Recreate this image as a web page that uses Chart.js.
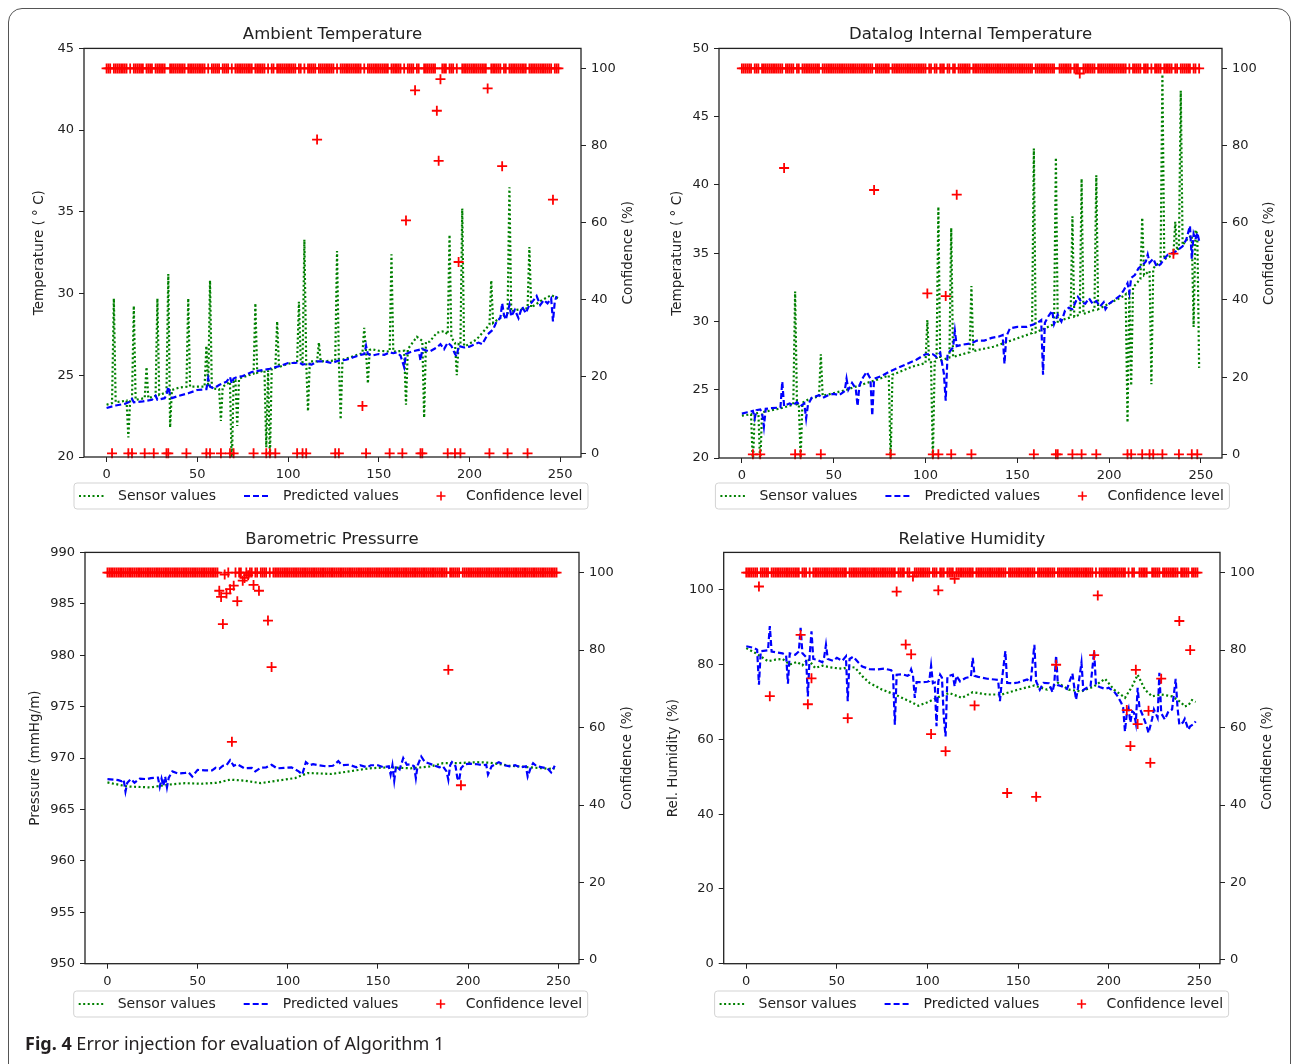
<!DOCTYPE html>
<html><head><meta charset="utf-8">
<script src="https://cdn.jsdelivr.net/npm/chart.js@4.4.1/dist/chart.umd.min.js"></script>
<style>
html,body{margin:0;padding:0;background:#fff;}
body{width:1292px;height:1064px;position:relative;overflow:hidden;}
.frame{position:absolute;left:8px;top:8px;width:1283px;height:1100px;border:1.5px solid #555;border-radius:14px 14px 0 0;box-sizing:border-box;}
canvas{position:absolute;}
#caption{position:absolute;left:25px;top:1031px;line-height:24px;font-family:"Noto Sans","Open Sans",sans-serif;font-size:18px;color:#231f20;white-space:nowrap;}
#caption b{font-weight:700;}
</style></head>
<body>
<div class="frame"></div>
<canvas id="c1" width="646" height="520" style="left:0;top:0"></canvas>
<canvas id="c2" width="646" height="520" style="left:646px;top:0"></canvas>
<canvas id="c3" width="646" height="544" style="left:0;top:520px"></canvas>
<canvas id="c4" width="646" height="544" style="left:646px;top:520px"></canvas>
<div id="caption"><b>Fig. 4</b> Error injection for evaluation of Algorithm 1</div>
<script>
// ---------------- DATA ----------------
const xTickValues = [0, 50, 100, 150, 200, 250];
const confTickValues = [0, 20, 40, 60, 80, 100];
const ambTicks = [20, 25, 30, 35, 40, 45];
const dlgTicks = [20, 25, 30, 35, 40, 45, 50];
const baroTicks = [950, 955, 960, 965, 970, 975, 980, 985, 990];
const humTicks = [0, 20, 40, 60, 80, 100];

const titles = ["Ambient Temperature", "Datalog Internal Temperature", "Barometric Pressurre", "Relative Humidity"];
const yTitles = ["Temperature ( \u00B0 C)", "Temperature ( \u00B0 C)", "Pressure (mmHg/m)", "Rel. Humidity (%)"];
const seriesNames = ["Sensor values", "Predicted values", "Confidence level"];
const confTitle = "Confidence (%)";

// Ambient Temperature: [step, value]
const ambSensor = [[0,23.2],[3,23.3],[4,29.7],[5,23.35],[11,23.45],[12,21.2],[13,23.5],[14,23.5],[15,29.25],[16,23.5],[21,23.6],[22,25.5],[23,23.6],[27,23.75],[28,29.7],[29,23.8],[33,23.95],[34,31.2],[35,21.8],[36,24.1],[40,24.25],[44,24.3],[45,29.7],[46,24.3],[54,24.3],[55,26.8],[56,24.3],[57,30.8],[58,24.2],[62,24.15],[63,22.2],[64,24.3],[68,24.6],[69,19.3],[70,24.7],[71,24.7],[72,21.9],[73,24.8],[81,25.1],[82,29.4],[83,25.15],[87,25.3],[88,20.6],[89,25.3],[90,19.8],[91,25.4],[93,25.45],[94,28.3],[95,25.5],[100,25.7],[105,25.8],[106,29.5],[107,25.8],[108,25.8],[109,33.3],[110,25.85],[111,22.8],[112,25.85],[116,25.85],[117,27.0],[118,25.85],[126,25.9],[127,32.6],[128,25.9],[129,22.3],[130,25.95],[141,26.35],[142,27.9],[143,26.4],[144,24.5],[145,26.55],[146,26.6],[150,26.5],[156,26.45],[157,32.4],[158,26.45],[164,26.5],[165,23.2],[166,26.6],[171,27.35],[174,27.1],[175,22.4],[176,27.05],[178,27.05],[182,27.6],[186,27.7],[188,27.5],[189,33.6],[190,27.3],[192,27.0],[193,25.0],[194,26.9],[195,26.85],[196,35.2],[197,26.8],[198,26.8],[204,27.2],[211,28.1],[212,30.8],[213,28.2],[218,28.6],[221,28.8],[222,36.5],[223,28.9],[226,29.0],[232,29.1],[233,32.85],[234,29.15],[240,29.6],[245,29.9],[249,29.7]];
const ambPred = [[0,23.0],[5,23.15],[10,23.25],[13,23.4],[14,23.55],[15,23.35],[20,23.4],[25,23.5],[27,23.75],[28,23.5],[32,23.6],[33,23.8],[34,24.3],[35,23.8],[36,23.6],[40,23.75],[45,23.9],[50,24.1],[55,24.15],[56,24.8],[57,24.3],[59,24.2],[62,24.4],[66,24.6],[68,24.9],[69,24.5],[70,24.8],[72,24.9],[75,24.95],[80,25.2],[85,25.3],[90,25.4],[93,25.5],[95,25.55],[100,25.75],[104,25.75],[106,25.8],[108,25.65],[110,25.7],[113,25.65],[116,25.85],[120,25.85],[124,25.75],[128,25.9],[132,25.95],[136,26.1],[140,26.25],[142,26.3],[143,26.8],[144,26.3],[146,26.2],[150,26.3],[153,26.25],[156,26.4],[158,26.35],[160,26.4],[162,26.2],[164,25.5],[165,26.3],[168,26.45],[172,26.55],[173,25.9],[174,26.6],[178,26.45],[182,26.7],[184,26.9],[186,26.6],[188,27.0],[190,26.8],[192,26.3],[193,26.15],[194,26.8],[197,26.7],[200,26.75],[203,26.9],[205,27.0],[207,26.9],[210,27.5],[213,27.8],[215,28.3],[217,28.5],[218,29.4],[219,28.7],[220,28.4],[222,29.3],[223,28.6],[225,29.0],[227,28.5],[229,29.2],[231,28.8],[233,29.3],[235,29.55],[237,29.85],[239,29.3],[241,29.6],[243,29.4],[245,29.7],[246,28.3],[247,29.5],[248,29.85]];
const ambConf = [
100,100,100,0,100,100,100,100,100,100,
100,100,0,100,0,100,100,100,100,100,
100,0,100,100,100,100,0,100,100,100,
100,100,100,0,0,100,100,100,100,100,
100,100,100,100,0,100,100,100,100,100,
100,100,100,100,100,0,100,0,100,100,
100,100,100,0,100,100,100,100,0,100,
0,100,100,100,100,100,100,100,100,100,
100,0,100,100,100,100,100,100,0,100,
0,100,100,0,100,100,100,100,100,100,
100,100,100,100,100,0,100,100,0,100,
0,100,100,100,100,100,81.5,100,100,100,
100,100,100,100,100,100,0,100,0,100,
100,100,100,100,100,100,100,100,100,100,
100,12.3,100,0,100,100,100,100,100,100,
100,100,100,100,100,100,0,100,100,100,
100,100,100,0,100,60.5,100,100,100,100,
94.3,100,100,0,0,100,100,100,100,100,
100,100,89,76,97.2,100,100,100,0,100,
100,100,0,100,49.7,0,100,100,100,100,
100,100,100,100,100,100,100,100,100,100,
94.8,0,100,100,100,100,100,100,74.6,100,
100,0,100,100,100,100,100,100,100,100,
100,100,0,100,100,100,100,100,100,100,
100,100,100,100,100,100,65.9,100,100,100];

// Datalog Internal Temperature
const dlgSensor = [[0,23.1],[5,23.2],[6,19.5],[7,23.25],[9,23.3],[10,19.5],[11,23.35],[20,23.6],[28,23.9],[29,32.2],[30,23.95],[31,24.0],[32,20.0],[33,24.05],[37,24.35],[42,24.5],[43,27.6],[44,24.55],[57,25.0],[75,25.8],[80,26.05],[81,19.8],[82,26.1],[93,26.7],[100,26.95],[101,30.1],[102,27.0],[103,27.0],[104,19.8],[105,27.05],[106,27.1],[107,38.4],[108,27.15],[112,27.3],[113,27.35],[114,36.85],[115,27.4],[124,27.75],[125,32.6],[126,27.8],[128,27.9],[137,28.15],[155,29.0],[158,29.15],[159,42.66],[160,29.2],[170,29.8],[171,42.0],[172,29.9],[174,30.1],[179,30.3],[180,37.7],[181,30.35],[184,30.5],[185,40.45],[186,30.55],[192,30.85],[193,40.7],[194,30.9],[207,31.8],[209,32.0],[210,22.6],[211,32.2],[212,25.3],[213,32.5],[217,33.1],[218,37.6],[219,33.4],[222,33.7],[223,25.4],[224,33.9],[228,34.4],[229,48.1],[230,34.55],[235,34.9],[236,37.3],[237,35.2],[238,35.4],[239,46.9],[240,35.6],[243,36.1],[245,36.3],[246,29.6],[247,36.7],[248,36.4],[249,26.6]];
const dlgPred = [[0,23.25],[3,23.35],[6,23.45],[7,22.9],[8,23.5],[10,23.55],[11,23.3],[12,22.3],[13,23.6],[16,23.65],[21,23.7],[22,25.6],[23,23.8],[26,24.0],[28,23.85],[30,24.1],[32,23.8],[34,24.0],[35,22.9],[36,23.9],[38,24.4],[42,24.6],[44,24.4],[47,24.6],[50,24.7],[53,24.6],[56,24.9],[57,25.8],[58,25.0],[60,25.5],[62,25.1],[63,23.8],[64,25.3],[66,25.9],[68,26.3],[70,25.8],[71,23.1],[72,25.8],[76,26.0],[80,26.3],[85,26.6],[90,26.9],[95,27.2],[100,27.6],[104,27.6],[106,27.4],[108,27.7],[110,26.2],[111,24.2],[112,27.6],[115,28.1],[116,29.3],[117,28.2],[120,28.3],[125,28.4],[128,28.6],[132,28.6],[136,28.8],[140,28.9],[142,29.0],[143,26.9],[144,28.9],[146,29.5],[150,29.6],[155,29.6],[159,29.8],[162,30.0],[163,30.1],[164,26.1],[165,29.9],[167,30.4],[169,30.8],[170,29.8],[172,30.5],[174,30.0],[176,30.8],[178,31.0],[180,30.9],[183,31.8],[185,31.4],[187,31.3],[189,31.7],[191,31.3],[193,31.5],[195,31.1],[197,31.4],[198,30.9],[200,31.3],[203,31.6],[206,31.9],[208,32.3],[210,32.8],[211,32.1],[212,33.2],[214,33.4],[216,33.9],[218,34.1],[220,34.4],[221,34.9],[222,34.3],[224,34.6],[226,34.0],[228,34.2],[230,34.6],[232,34.9],[234,35.0],[236,35.1],[238,35.3],[240,35.5],[242,36.0],[244,37.0],[245,34.6],[246,36.4],[247,36.0],[248,36.5],[249,35.9]];
const dlgConf = [
100,100,100,100,100,100,0,100,100,100,
0,100,100,100,100,100,100,100,100,100,
100,100,100,74.2,100,100,100,100,100,0,
100,100,0,100,100,100,100,100,100,100,
100,100,100,0,100,100,100,100,100,100,
100,100,100,100,100,100,100,100,100,100,
100,100,100,100,100,100,100,100,100,100,
100,100,68.5,100,100,100,100,100,100,100,
100,0,100,100,100,100,100,100,100,100,
100,100,100,100,100,100,100,100,100,100,
100,41.7,100,100,0,100,100,0,100,100,
100,41,100,100,0,100,100,67.3,100,100,
100,100,100,100,100,0,100,100,100,100,
100,100,100,100,100,100,100,100,100,100,
100,100,100,100,100,100,100,100,100,100,
100,100,100,100,100,100,100,100,100,0,
100,100,100,100,100,100,100,100,100,100,
100,0,0,100,100,100,100,100,100,100,
0,100,100,100,98.7,0,100,100,100,100,
100,100,100,0,100,100,100,100,100,100,
100,100,100,100,100,100,100,100,100,100,
0,100,0,100,100,100,100,100,0,100,
100,100,0,100,0,100,100,100,100,0,
100,100,100,100,100,52,100,100,0,100,
100,100,100,100,100,0,100,100,0,100];

// Barometric Pressure
const baroSensor = [[0,967.63],[11,967.24],[24,967.14],[33,967.4],[43,967.56],[52,967.5],[61,967.6],[68,967.9],[76,967.8],[85,967.56],[94,967.8],[104,968.05],[111,968.54],[118,968.5],[124,968.45],[134,968.7],[145,969.0],[156,969.1],[168,969.0],[179,969.18],[186,969.5],[193,969.5],[205,969.6],[212,969.55],[223,969.25],[234,969.1],[245,968.96],[248,969.0]];
const baroPred = [[0,967.95],[4,967.9],[6,967.85],[8,967.75],[9,967.9],[10,966.75],[11,967.6],[13,967.95],[15,967.6],[18,968.0],[22,967.95],[24,968.05],[28,968.1],[29,967.2],[30,968.0],[31,967.3],[32,968.2],[33,967.15],[34,968.1],[36,968.7],[39,968.5],[43,968.55],[45,968.6],[47,968.2],[50,968.85],[54,968.8],[58,968.8],[60,969.05],[62,968.95],[64,969.25],[66,969.3],[68,969.8],[70,969.25],[72,969.4],[76,969.0],[80,969.05],[82,968.7],[85,969.05],[88,969.1],[91,969.35],[94,969.0],[98,969.05],[102,969.1],[104,968.9],[106,968.7],[108,968.4],[110,969.6],[112,969.3],[114,969.4],[117,969.3],[121,969.2],[125,969.25],[128,969.7],[130,969.3],[134,969.35],[138,969.1],[140,969.3],[144,969.1],[146,969.3],[150,969.3],[153,969.1],[156,969.2],[157,968.4],[158,969.3],[159,967.8],[160,969.2],[162,968.9],[164,970.0],[166,969.35],[168,969.4],[170,969.2],[171,968.05],[172,969.3],[174,970.15],[176,969.6],[178,969.5],[181,969.3],[184,969.1],[186,969.2],[188,968.7],[189,967.9],[190,969.3],[191,969.6],[193,969.2],[194,968.05],[195,967.8],[196,969.0],[198,969.4],[201,969.45],[205,969.4],[208,969.3],[210,969.35],[211,968.4],[213,969.2],[217,969.6],[220,969.3],[223,969.2],[226,969.3],[229,969.1],[232,969.2],[233,968.2],[235,969.2],[236,969.5],[238,969.2],[241,969.1],[244,969.0],[246,968.6],[248,969.25]];
const baroConf = [
100,100,100,100,100,100,100,100,100,100,
100,100,100,100,100,100,100,100,100,100,
100,100,100,100,100,100,100,100,100,100,
100,100,100,100,100,100,100,100,100,100,
100,100,100,100,100,100,100,100,100,100,
100,100,100,100,100,100,100,100,100,100,
100,100,95.3,93.7,86.7,99.5,94.6,100,95.7,56.3,
96.6,100,92.6,100,100,97.9,98.6,100,99.3,100,
100,96.8,100,100,95.3,100,100,100,100,87.6,
100,75.6,100,100,100,100,100,100,100,100,
100,100,100,100,100,100,100,100,100,100,
100,100,100,100,100,100,100,100,100,100,
100,100,100,100,100,100,100,100,100,100,
100,100,100,100,100,100,100,100,100,100,
100,100,100,100,100,100,100,100,100,100,
100,100,100,100,100,100,100,100,100,100,
100,100,100,100,100,100,100,100,100,100,
100,100,100,100,100,100,100,100,100,100,
100,100,100,100,100,100,100,100,100,74.9,
100,100,100,100,100,100,45.1,100,100,100,
100,100,100,100,100,100,100,100,100,100,
100,100,100,100,100,100,100,100,100,100,
100,100,100,100,100,100,100,100,100,100,
100,100,100,100,100,100,100,100,100,100,
100,100,100,100,100,100,100,100,100,100];

// Relative Humidity
const humSensor = [[0,84.4],[5,83.1],[12,80.9],[16,81.3],[20,81.5],[24,80.0],[28,80.7],[31,79.8],[34,81.5],[38,79.1],[42,79.7],[46,79.3],[49,79.1],[53,78.9],[57,79.4],[60,79.2],[64,76.9],[68,75.1],[75,73.3],[82,72.0],[90,70.2],[95,69.0],[100,69.9],[106,71.3],[112,72.4],[119,71.1],[125,72.6],[133,72.0],[141,72.0],[150,73.3],[159,74.4],[166,73.3],[172,75.1],[178,73.3],[185,72.8],[192,74.2],[198,76.2],[203,73.3],[209,71.1],[213,74.2],[216,77.3],[220,73.3],[224,71.5],[229,72.0],[235,71.5],[240,69.9],[242,68.8],[244,69.1],[246,70.5],[248,70.0]];
const humPred = [[0,84.9],[4,84.5],[6,84.0],[7,74.6],[8,83.6],[12,83.8],[13,90.3],[14,83.5],[16,83.3],[20,83.0],[22,82.5],[23,74.9],[24,83.0],[27,82.6],[29,83.5],[30,89.8],[31,83.0],[33,82.0],[34,71.5],[35,82.5],[36,88.9],[37,81.5],[39,81.3],[42,80.6],[43,82.0],[44,85.3],[45,81.5],[48,81.0],[50,81.8],[53,81.0],[55,82.2],[56,70.2],[57,81.5],[59,82.1],[62,80.5],[64,79.5],[68,78.8],[72,78.7],[76,78.9],[80,78.5],[81,77.5],[82,63.9],[83,77.3],[86,77.4],[89,77.0],[90,77.3],[91,78.7],[92,77.2],[93,71.1],[94,75.3],[97,75.3],[100,75.4],[101,75.6],[102,79.7],[103,75.0],[104,75.2],[105,63.5],[106,75.5],[107,77.3],[108,76.5],[109,66.0],[110,60.8],[111,76.8],[112,77.0],[114,77.3],[115,74.2],[116,77.0],[118,75.5],[121,76.4],[124,76.8],[125,81.8],[126,77.0],[128,76.7],[133,76.2],[137,76.0],[139,75.9],[140,70.2],[141,75.5],[143,83.6],[144,75.1],[147,75.0],[150,75.2],[155,76.0],[157,75.4],[159,85.3],[160,75.5],[162,73.3],[164,75.1],[167,75.0],[169,72.6],[170,75.0],[171,82.4],[172,74.5],[174,74.2],[177,73.5],[180,77.6],[181,74.0],[182,70.6],[183,73.5],[185,80.5],[186,73.2],[188,73.8],[190,74.2],[192,83.6],[193,74.5],[195,74.0],[198,73.5],[200,73.8],[203,72.8],[205,71.5],[207,69.7],[208,68.5],[209,62.1],[210,66.8],[211,68.3],[212,64.5],[213,67.5],[214,67.1],[215,64.4],[216,73.8],[217,68.5],[219,66.2],[221,63.5],[222,61.7],[224,65.5],[225,68.0],[227,65.8],[228,77.8],[229,67.0],[231,65.3],[233,67.5],[235,68.0],[237,76.2],[238,68.5],[239,63.9],[241,64.5],[242,65.5],[244,62.6],[245,63.5],[247,64.1],[248,64.8]];
const humConf = [
100,100,100,100,100,100,100,96.4,100,100,
100,100,100,68.1,100,100,100,100,100,100,
100,100,100,100,100,100,100,100,100,100,
83.9,100,100,100,66,100,72.7,100,100,100,
100,100,100,100,100,100,100,100,100,100,
100,100,100,100,100,100,62.4,100,100,100,
100,100,100,100,100,100,100,100,100,100,
100,100,100,100,100,100,100,100,100,100,
100,100,100,95.1,100,100,100,100,81.4,100,
100,78.9,99,100,100,100,100,100,100,100,
100,100,58.3,100,100,100,95.4,100,100,100,
53.9,100,100,100,100,98.4,100,100,100,100,
100,100,100,100,100,100,65.7,100,100,100,
100,100,100,100,100,100,100,100,100,100,
100,100,100,100,43.1,100,100,100,100,100,
100,100,100,100,100,100,100,100,100,100,
42.1,100,100,100,100,100,100,100,100,100,
100,76.2,100,100,100,100,100,100,100,100,
100,100,100,100,100,100,100,100,100,100,
100,100,78.7,100,94.1,100,100,100,100,100,
100,100,100,100,100,100,100,100,100,100,
64.5,100,55.2,100,100,74.9,60.9,100,100,100,
100,100,64.3,50.9,100,100,100,100,100,72.6,
100,100,100,100,100,100,100,100,100,87.5,
100,100,100,100,100,80,100,100,100,100];

// ---------------- STYLE / LAYOUT ----------------
const FONT = '"DejaVu Sans", sans-serif';
const GREEN = '#008000', BLUE = '#0000ff', RED = '#ff0000', INK = '#222222';

const mplExtras = {
  id: 'mplExtras',
  afterDatasetsDraw(chart, args, o) {
    const ctx = chart.ctx, ca = chart.chartArea;
    ctx.save();
    ctx.strokeStyle = INK; ctx.lineWidth = 1.3;
    ctx.strokeRect(ca.left, ca.top, ca.right - ca.left, ca.bottom - ca.top);
    ctx.restore();
  },
  afterDraw(chart, args, o) {
    const ctx = chart.ctx, ca = chart.chartArea;
    const ds = chart.data.datasets;
    const lbl = name => (ds.find(d => d.label === name) || {}).label || name;
    ctx.save();
    ctx.translate(o.rightTitleX, (ca.top + ca.bottom) / 2);
    ctx.rotate(-Math.PI / 2);
    ctx.font = '13.5px ' + FONT;
    ctx.fillStyle = INK; ctx.textAlign = 'center'; ctx.textBaseline = 'middle';
    ctx.fillText(o.rightTitle, 0, 0);
    ctx.restore();
    const L = o.legendLeft, C = o.legendCY;
    ctx.save();
    ctx.beginPath();
    ctx.roundRect(L, C - 13, 514, 26, 3);
    ctx.fillStyle = 'rgba(255,255,255,0.8)'; ctx.fill();
    ctx.strokeStyle = '#d3d3d3'; ctx.lineWidth = 1; ctx.stroke();
    ctx.lineWidth = 2.2;
    ctx.setLineDash([2, 2.5]); ctx.strokeStyle = GREEN;
    ctx.beginPath(); ctx.moveTo(L + 5, C); ctx.lineTo(L + 32, C); ctx.stroke();
    ctx.setLineDash([6, 3]); ctx.strokeStyle = BLUE;
    ctx.beginPath(); ctx.moveTo(L + 170, C); ctx.lineTo(L + 197, C); ctx.stroke();
    ctx.setLineDash([]); ctx.strokeStyle = RED; ctx.lineWidth = 1.6;
    ctx.beginPath(); ctx.moveTo(L + 362.5, C); ctx.lineTo(L + 371.5, C);
    ctx.moveTo(L + 367, C - 4.5); ctx.lineTo(L + 367, C + 4.5); ctx.stroke();
    ctx.font = '14px ' + FONT; ctx.fillStyle = INK;
    ctx.textAlign = 'left'; ctx.textBaseline = 'middle';
    ctx.fillText(lbl(seriesNames[0]), L + 44, C);
    ctx.fillText(lbl(seriesNames[1]), L + 209, C);
    ctx.fillText(lbl(seriesNames[2]), L + 392, C);
    ctx.restore();
  }
};

const toXY = pairs => pairs.map(p => ({x: p[0], y: p[1]}));
const tickOpts = (pad) => ({font: {family: FONT, size: 13}, color: INK, padding: pad, maxRotation: 0, autoSkip: false});
const gridOpts = {display: true, drawOnChartArea: false, drawTicks: true, tickLength: 5, color: INK, lineWidth: 1};

function buildChart(id, p) {
  return new Chart(document.getElementById(id), {
    type: 'line',
    data: {datasets: [
      {label: seriesNames[2], type: 'scatter', data: p.conf.map((v, i) => ({x: i, y: v})), yAxisID: 'yR',
       showLine: false, pointStyle: 'cross', pointRadius: 5, pointBorderWidth: 1.8,
       borderColor: RED, backgroundColor: RED, order: 0, clip: false},
      {label: seriesNames[1], data: toXY(p.pred), yAxisID: 'y', borderColor: BLUE, borderWidth: 2.2,
       borderDash: [6, 3], pointRadius: 0, tension: 0, fill: false, order: 1},
      {label: seriesNames[0], data: toXY(p.sensor), yAxisID: 'y', borderColor: GREEN, borderWidth: 2.2,
       borderDash: [2, 2.5], pointRadius: 0, tension: 0, fill: false, order: 2}
    ]},
    options: {
      responsive: false, animation: false, events: [],
      layout: {padding: 0},
      plugins: {
        legend: {display: false}, tooltip: {enabled: false},
        title: {display: true, text: p.title, fullSize: false, color: INK,
                font: {family: FONT, size: 16.5, weight: 'normal'},
                padding: {top: p.tPadTop, bottom: p.tPadBottom}},
        mplExtras: {rightTitle: confTitle, rightTitleX: p.rightTitleX, legendLeft: p.legendLeft, legendCY: p.legendCY}
      },
      scales: {
        x: {type: 'linear', min: -12.45, max: 261.45,
            afterBuildTicks: s => { s.ticks = xTickValues.map(v => ({value: v})); },
            afterFit: s => { s.height = p.xH; },
            grid: gridOpts, border: {display: false}, ticks: tickOpts(5)},
        y: {position: 'left', min: p.yMin, max: p.yMax,
            afterBuildTicks: s => { s.ticks = p.yTicks.map(v => ({value: v})); },
            afterFit: s => { s.width = p.leftW; },
            title: {display: true, text: p.yTitle, color: INK, font: {family: FONT, size: 13.5},
                    padding: {top: p.yTitlePad, bottom: 0}},
            grid: gridOpts, border: {display: false}, ticks: tickOpts(5)},
        yR: {position: 'right', min: -0.96, max: 105.2,
             afterBuildTicks: s => { s.ticks = confTickValues.map(v => ({value: v})); },
             afterFit: s => { s.width = p.rightW; },
             grid: gridOpts, border: {display: false}, ticks: tickOpts(5)}
      }
    },
    plugins: [mplExtras]
  });
}

buildChart('c1', {title: titles[0], yTitle: yTitles[0], yMin: 20, yMax: 45, yTicks: ambTicks,
  sensor: ambSensor, pred: ambPred, conf: ambConf,
  leftW: 84, rightW: 65, xH: 63, tPadTop: 24.6, tPadBottom: 4.0, yTitlePad: 31.3,
  rightTitleX: 628.4, legendLeft: 74, legendCY: 496});
buildChart('c2', {title: titles[1], yTitle: yTitles[1], yMin: 20, yMax: 50, yTicks: dlgTicks,
  sensor: dlgSensor, pred: dlgPred, conf: dlgConf,
  leftW: 73, rightW: 70, xH: 62, tPadTop: 24.6, tPadBottom: 4.0, yTitlePad: 23.2,
  rightTitleX: 623.7, legendLeft: 69.4, legendCY: 496});
buildChart('c3', {title: titles[2], yTitle: yTitles[2], yMin: 950, yMax: 990, yTicks: baroTicks,
  sensor: baroSensor, pred: baroPred, conf: baroConf,
  leftW: 85, rightW: 67, xH: 100.3, tPadTop: 9.6, tPadBottom: 3.0, yTitlePad: 27.1,
  rightTitleX: 627.6, legendLeft: 73.7, legendCY: 484});
buildChart('c4', {title: titles[3], yTitle: yTitles[3], yMin: 0, yMax: 110, yTicks: humTicks,
  sensor: humSensor, pred: humPred, conf: humConf,
  leftW: 77.7, rightW: 72, xH: 100.3, tPadTop: 9.6, tPadBottom: 3.0, yTitlePad: 19.1,
  rightTitleX: 621.6, legendLeft: 68.6, legendCY: 484});
</script>
</body></html>
